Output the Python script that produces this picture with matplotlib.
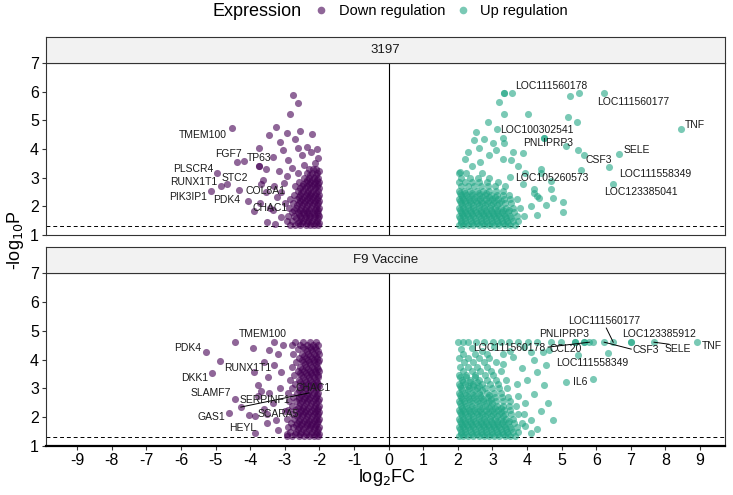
import matplotlib
matplotlib.use("Agg")
import matplotlib.pyplot as plt
from matplotlib.lines import Line2D

plt.rcParams['font.family'] = ['Liberation Sans', 'DejaVu Sans']
plt.rcParams['axes.unicode_minus'] = False

DOWN_COL = "#440154"
UP_COL = "#21A685"
ALPHA = 0.6
PCUT = 1.301

panels = ["3197", "F9 Vaccine"]

# ---- 3197, down regulation ----
a_scatter = [(-2.75, 5.88), (-2.62, 5.62), (-2.85, 5.22), (-3.25, 4.78), (-2.95, 4.55), (-2.55, 4.62),
             (-2.2, 4.52), (-3.45, 4.5), (-2.7, 4.35), (-2.35, 4.08), (-2.08, 4.0), (-3.75, 4.02),
             (-3.05, 3.98), (-3.35, 3.72), (-2.92, 3.62), (-2.5, 3.78), (-2.12, 3.5), (-3.55, 3.3),
             (-3.18, 3.22), (-2.8, 3.35), (-3.62, 2.92), (-3.32, 2.72), (-3.02, 2.82), (-3.55, 2.5),
             (-3.22, 2.32), (-3.72, 2.1), (-3.42, 1.95), (-3.88, 1.82), (-3.12, 1.62), (-3.5, 1.45),
             (-3.28, 1.38), (-3.0, 2.1), (-3.1, 2.5), (-2.95, 1.5), (-2.95, 3.05), (-2.45, 3.45),
             (-2.25, 3.9), (-2.62, 4.05), (-3.15, 4.25), (-2.05, 3.7), (-2.18, 3.3), (-2.02, 3.25)]
a_rows = [(1.35, [-2.85, -2.7, -2.55, -2.4, -2.28, -2.15, -2.03]),
          (1.42, [-2.63, -2.5, -2.36, -2.24, -2.11, -2.01]),
          (1.5, [-2.78, -2.6, -2.47, -2.33, -2.2, -2.08]),
          (1.58, [-2.68, -2.53, -2.41, -2.29, -2.16, -2.04]),
          (1.65, [-2.9, -2.72, -2.55, -2.4, -2.26, -2.12, -2.02]),
          (1.73, [-2.58, -2.45, -2.31, -2.17, -2.05]),
          (1.8, [-2.8, -2.62, -2.48, -2.35, -2.2, -2.06]),
          (1.88, [-2.74, -2.57, -2.43, -2.3, -2.14, -2.03]),
          (1.95, [-2.88, -2.68, -2.52, -2.38, -2.25, -2.1, -2.02]),
          (2.03, [-2.66, -2.49, -2.35, -2.21, -2.07]),
          (2.1, [-2.75, -2.6, -2.44, -2.3, -2.16, -2.04]),
          (2.18, [-2.55, -2.41, -2.27, -2.12, -2.01]),
          (2.25, [-2.85, -2.66, -2.5, -2.36, -2.22, -2.08]),
          (2.33, [-2.6, -2.45, -2.31, -2.18, -2.04]),
          (2.4, [-2.72, -2.55, -2.4, -2.27, -2.12, -2.02]),
          (2.48, [-2.52, -2.37, -2.24, -2.09]),
          (2.55, [-2.62, -2.46, -2.32, -2.18, -2.05]),
          (2.63, [-2.56, -2.41, -2.27, -2.13, -2.02]),
          (2.7, [-2.7, -2.5, -2.36, -2.22, -2.08]),
          (2.78, [-2.47, -2.31, -2.17, -2.05]),
          (2.85, [-2.58, -2.4, -2.26, -2.12, -2.02]),
          (2.93, [-2.36, -2.2, -2.07]),
          (3.0, [-2.45, -2.3, -2.15, -2.04]),
          (3.08, [-2.28, -2.11]),
          (3.15, [-2.62, -2.35, -2.2, -2.06]),
          (3.3, [-2.3, -2.1])]
# name, x, y, label x, label y
a_labels = [("TMEM100", -4.52, 4.73, -5.36, 4.49), ("FGF7", -4.38, 3.55, -4.63, 3.83),
            ("TP63", -3.74, 3.41, -3.74, 3.69), ("PLSCR4", -4.96, 3.16, -5.64, 3.30),
            ("STC2", -4.67, 2.78, -4.43, 3.00), ("RUNX1T1", -4.84, 2.71, -5.64, 2.85),
            ("PIK3IP1", -5.12, 2.52, -5.79, 2.33), ("PDK4", -4.32, 2.57, -4.67, 2.22),
            ("COL8A1", -3.68, 2.78, -3.57, 2.54), ("CHAC1", -3.34, 1.87, -3.42, 1.94)]
a_extra = [(-4.18, 3.58), (-4.06, 2.19), (-3.74, 3.41)]

# ---- 3197, up regulation ----
b_scatter = [(3.56, 5.95), (5.25, 5.85), (5.5, 5.95), (3.2, 5.64), (3.34, 5.22), (4.03, 5.22),
             (5.19, 5.12), (5.45, 4.94), (2.88, 4.94), (2.53, 4.59), (2.76, 4.35), (2.47, 4.31),
             (3.02, 4.2), (3.3, 4.4), (3.34, 4.2), (4.49, 4.38), (5.48, 3.97), (5.65, 3.79),
             (3.89, 3.86), (3.31, 3.65), (3.75, 3.4), (4.41, 3.3), (4.4, 3.15), (3.89, 2.78),
             (4.7, 2.9), (4.7, 2.62), (4.76, 2.29), (5.04, 2.15), (5.04, 1.8), (4.2, 2.6),
             (4.35, 2.3), (4.1, 2.0), (4.55, 2.05), (4.3, 1.7), (2.2, 3.65), (2.4, 3.4),
             (2.65, 3.55), (2.9, 3.8), (3.1, 3.95), (2.3, 3.9), (2.05, 3.2), (2.6, 4.05),
             (3.55, 3.6), (3.95, 3.15), (3.6, 3.9), (4.2, 2.45), (4.28, 2.35), (3.34, 5.95)]
b_rows = [(1.35, [2.02, 2.15, 2.3, 2.45, 2.6, 2.75, 2.9, 3.05, 3.2, 3.35, 3.5, 3.65]),
          (1.42, [2.1, 2.25, 2.4, 2.55, 2.7, 2.85, 3.0, 3.15, 3.3, 3.45]),
          (1.5, [2.08, 2.22, 2.38, 2.52, 2.68, 2.82, 2.98, 3.12, 3.28, 3.42, 3.58, 3.75]),
          (1.58, [2.05, 2.2, 2.36, 2.5, 2.66, 2.8, 2.95, 3.1, 3.25, 3.4, 3.55]),
          (1.65, [2.02, 2.15, 2.3, 2.45, 2.6, 2.75, 2.9, 3.05, 3.2, 3.35, 3.52, 3.7, 3.9]),
          (1.73, [2.12, 2.27, 2.42, 2.57, 2.72, 2.87, 3.02, 3.17, 3.32]),
          (1.8, [2.08, 2.22, 2.38, 2.52, 2.68, 2.82, 2.98, 3.12, 3.28, 3.45, 3.62]),
          (1.88, [2.05, 2.2, 2.36, 2.5, 2.66, 2.8, 2.96, 3.12, 3.3, 3.48]),
          (1.95, [2.02, 2.15, 2.3, 2.45, 2.6, 2.75, 2.92, 3.08, 3.25, 3.4, 3.58, 3.8]),
          (2.03, [2.12, 2.28, 2.44, 2.6, 2.78, 2.95, 3.12]),
          (2.1, [2.08, 2.22, 2.38, 2.55, 2.7, 2.85, 3.02, 3.18, 3.35, 3.55]),
          (2.18, [2.05, 2.2, 2.36, 2.52, 2.68, 2.86, 3.05, 3.25]),
          (2.25, [2.02, 2.15, 2.32, 2.48, 2.65, 2.8, 2.98, 3.15, 3.32, 3.5, 3.72]),
          (2.33, [2.12, 2.3, 2.5, 2.7, 2.9, 3.08]),
          (2.4, [2.08, 2.25, 2.42, 2.6, 2.78, 2.95, 3.12, 3.3, 3.48]),
          (2.48, [2.05, 2.22, 2.4, 2.62, 2.82]),
          (2.55, [2.02, 2.18, 2.35, 2.55, 2.72, 2.9, 3.1, 3.3]),
          (2.7, [2.1, 2.28, 2.48, 2.68, 2.88, 3.08, 3.35]),
          (2.85, [2.02, 2.2, 2.42, 2.62, 2.85, 3.15]),
          (3.0, [2.1, 2.35, 2.58, 2.9]),
          (3.15, [2.02, 2.25, 2.7])]
b_labels = [("LOC111560178", 3.34, 5.95, 4.70, 6.20), ("LOC111560177", 6.23, 5.95, 7.07, 5.64),
            ("TNF", 8.45, 4.70, 8.86, 4.84), ("LOC100302541", 3.13, 4.70, 4.27, 4.66),
            ("PNLIPRP3", 5.13, 4.10, 4.60, 4.21), ("SELE", 6.66, 3.83, 7.17, 3.97),
            ("CSF3", 6.37, 3.38, 6.08, 3.62), ("LOC111558349", 5.56, 3.27, 7.71, 3.13),
            ("LOC123385041", 6.49, 2.78, 7.30, 2.50), ("LOC105260573", 3.51, 3.02, 4.73, 2.99)]
b_extra = [(4.49, 4.38)]

# ---- F9 Vaccine, down regulation ----
c_scatter = [(-4.87, 3.95), (-3.92, 4.4), (-3.45, 4.33), (-4.03, 2.07), (-3.77, 3.1), (-3.77, 2.75),
             (-3.48, 3.4), (-3.3, 3.8), (-3.2, 4.2), (-3.05, 4.5), (-3.35, 2.5), (-3.5, 1.8),
             (-3.2, 1.55), (-3.6, 2.3), (-3.15, 3.0), (-3.0, 2.2), (-3.25, 1.9), (-3.9, 3.55),
             (-3.3, 4.6), (-2.95, 1.4), (-3.1, 3.55), (-3.85, 2.05), (-3.45, 2.85)]
c_rows = [(1.35, [-2.95, -2.78, -2.6, -2.45, -2.3, -2.15, -2.03]),
          (1.42, [-2.7, -2.55, -2.39, -2.25, -2.11, -2.01]),
          (1.5, [-2.85, -2.68, -2.52, -2.38, -2.22, -2.08]),
          (1.58, [-2.62, -2.46, -2.31, -2.17, -2.04]),
          (1.65, [-2.92, -2.75, -2.58, -2.42, -2.28, -2.12, -2.02]),
          (1.73, [-2.69, -2.53, -2.37, -2.23, -2.09]),
          (1.8, [-2.82, -2.65, -2.5, -2.35, -2.2, -2.06]),
          (1.88, [-2.6, -2.44, -2.3, -2.15, -2.03]),
          (1.95, [-2.95, -2.72, -2.56, -2.4, -2.25, -2.1, -2.02]),
          (2.03, [-2.66, -2.51, -2.36, -2.2, -2.07]),
          (2.1, [-2.8, -2.62, -2.46, -2.32, -2.16, -2.04]),
          (2.18, [-2.57, -2.41, -2.27, -2.12, -2.01]),
          (2.25, [-2.9, -2.7, -2.54, -2.38, -2.22, -2.08]),
          (2.33, [-2.63, -2.47, -2.32, -2.17, -2.05]),
          (2.4, [-2.78, -2.6, -2.44, -2.28, -2.12, -2.02]),
          (2.48, [-2.55, -2.4, -2.24, -2.09]),
          (2.55, [-2.88, -2.68, -2.5, -2.35, -2.18, -2.05]),
          (2.63, [-2.6, -2.45, -2.3, -2.14, -2.02]),
          (2.7, [-2.75, -2.58, -2.42, -2.26, -2.1]),
          (2.78, [-2.52, -2.37, -2.2, -2.06]),
          (2.85, [-2.92, -2.65, -2.48, -2.32, -2.16, -2.03]),
          (2.93, [-2.58, -2.42, -2.26, -2.1]),
          (3.0, [-2.8, -2.55, -2.38, -2.22, -2.08]),
          (3.08, [-2.47, -2.3, -2.14, -2.02]),
          (3.15, [-2.7, -2.5, -2.34, -2.18, -2.04]),
          (3.23, [-2.55, -2.39, -2.22, -2.07]),
          (3.3, [-2.85, -2.6, -2.42, -2.26, -2.1]),
          (3.38, [-2.46, -2.31, -2.16, -2.03]),
          (3.45, [-2.72, -2.52, -2.35, -2.2, -2.05]),
          (3.53, [-2.57, -2.4, -2.24, -2.09]),
          (3.6, [-2.62, -2.45, -2.28, -2.12, -2.02]),
          (3.68, [-2.5, -2.33, -2.17, -2.04]),
          (3.75, [-2.78, -2.55, -2.38, -2.22, -2.08]),
          (3.83, [-2.42, -2.26, -2.11]),
          (3.9, [-2.68, -2.48, -2.3, -2.15, -2.03]),
          (3.98, [-2.5, -2.33, -2.17, -2.02]),
          (4.05, [-2.58, -2.4, -2.22, -2.06]),
          (4.13, [-2.44, -2.27, -2.1]),
          (4.2, [-2.75, -2.5, -2.32, -2.15, -2.02]),
          (4.28, [-2.36, -2.2, -2.05]),
          (4.35, [-2.62, -2.42, -2.25, -2.1]),
          (4.43, [-2.46, -2.28, -2.12]),
          (4.5, [-2.8, -2.55, -2.35, -2.18, -2.04]),
          (4.62, [-2.7, -2.48, -2.28, -2.1])]
c_labels = [("PDK4", -5.27, 4.26, -5.80, 4.40), ("TMEM100", -4.44, 4.61, -3.63, 4.88),
            ("RUNX1T1", -3.60, 3.91, -4.06, 3.70), ("DKK1", -5.10, 3.53, -5.61, 3.36),
            ("SLAMF7", -4.44, 2.63, -5.13, 2.84), ("SERPINF1", -3.70, 2.90, -3.57, 2.60),
            ("CHAC1", -4.27, 2.35, -2.18, 3.01), ("GAS1", -4.60, 2.14, -5.13, 2.00),
            ("SCARA5", -3.50, 2.10, -3.20, 2.11), ("HEYL", -3.86, 1.45, -4.23, 1.62)]
c_segments = [((-4.27, 2.35), (-2.30, 2.84))]

# ---- F9 Vaccine, up regulation ----
d_top_x = [2.0, 2.15, 2.3, 2.52, 2.76, 3.02, 3.24, 3.47, 3.73, 4.02, 4.28, 4.68, 4.97, 5.38, 5.64,
           5.9, 7.01]
d_top_y = 4.6
d_scatter = [(2.1, 4.35), (2.4, 4.4), (2.7, 4.3), (3.05, 4.45), (3.5, 4.3), (3.9, 4.45), (4.45, 4.25),
             (4.12, 4.26), (4.2, 4.0), (4.55, 3.8), (4.3, 3.55), (4.0, 3.3), (4.5, 3.1), (4.2, 2.8),
             (4.6, 2.5), (4.4, 2.2), (4.1, 1.9), (4.3, 1.6), (4.75, 1.9), (3.95, 2.5), (3.85, 3.7),
             (4.62, 4.32), (5.48, 4.16), (5.13, 3.22), (3.6, 4.1), (3.3, 3.85), (3.7, 3.15),
             (3.9, 2.1), (3.75, 2.75), (4.1, 1.45), (3.95, 1.7)]
d_rows = [(1.35, [2.02, 2.15, 2.3, 2.45, 2.6, 2.75, 2.9, 3.05, 3.2, 3.35, 3.5, 3.65]),
          (1.42, [2.1, 2.25, 2.4, 2.55, 2.7, 2.85, 3.0, 3.15, 3.3, 3.45]),
          (1.5, [2.08, 2.22, 2.38, 2.52, 2.68, 2.82, 2.98, 3.12, 3.28, 3.42, 3.58, 3.75]),
          (1.58, [2.05, 2.2, 2.36, 2.5, 2.66, 2.8, 2.95, 3.1, 3.25, 3.4, 3.55]),
          (1.65, [2.02, 2.15, 2.3, 2.45, 2.6, 2.75, 2.9, 3.05, 3.2, 3.35, 3.52, 3.7]),
          (1.73, [2.12, 2.27, 2.42, 2.57, 2.72, 2.87, 3.02, 3.17, 3.32]),
          (1.8, [2.08, 2.22, 2.38, 2.52, 2.68, 2.82, 2.98, 3.12, 3.28, 3.45, 3.62, 3.85]),
          (1.88, [2.05, 2.2, 2.36, 2.5, 2.66, 2.8, 2.96, 3.12, 3.3, 3.48]),
          (1.95, [2.02, 2.15, 2.3, 2.45, 2.6, 2.75, 2.92, 3.08, 3.25, 3.4, 3.58]),
          (2.03, [2.12, 2.28, 2.44, 2.6, 2.78, 2.95, 3.12, 3.3]),
          (2.1, [2.08, 2.22, 2.38, 2.55, 2.7, 2.85, 3.02, 3.18, 3.35, 3.55, 3.75]),
          (2.18, [2.05, 2.2, 2.36, 2.52, 2.68, 2.86, 3.05, 3.25]),
          (2.25, [2.02, 2.15, 2.32, 2.48, 2.65, 2.8, 2.98, 3.15, 3.32, 3.5]),
          (2.33, [2.12, 2.3, 2.5, 2.7, 2.9, 3.08, 3.25]),
          (2.4, [2.08, 2.25, 2.42, 2.6, 2.78, 2.95, 3.12, 3.3, 3.48, 3.68]),
          (2.48, [2.05, 2.22, 2.4, 2.62, 2.82, 3.0]),
          (2.55, [2.02, 2.18, 2.35, 2.55, 2.72, 2.9, 3.1, 3.3, 3.5]),
          (2.63, [2.12, 2.32, 2.52, 2.72, 2.95]),
          (2.7, [2.1, 2.28, 2.48, 2.68, 2.88, 3.08, 3.28, 3.45]),
          (2.78, [2.05, 2.25, 2.45, 2.65, 2.9]),
          (2.85, [2.02, 2.2, 2.42, 2.62, 2.85, 3.05, 3.25]),
          (2.93, [2.12, 2.3, 2.5, 2.7]),
          (3.0, [2.1, 2.32, 2.55, 2.78, 3.0, 3.2, 3.42]),
          (3.08, [2.05, 2.28, 2.45, 2.62]),
          (3.15, [2.02, 2.22, 2.45, 2.7, 2.92, 3.15]),
          (3.23, [2.15, 2.35, 2.55]),
          (3.3, [2.12, 2.35, 2.6, 2.85, 3.1, 3.38]),
          (3.38, [2.05, 2.25, 2.5]),
          (3.45, [2.02, 2.25, 2.5, 2.78, 3.02]),
          (3.6, [2.15, 2.4, 2.65, 2.95, 3.25]),
          (3.75, [2.05, 2.3, 2.55, 2.85]),
          (3.9, [2.18, 2.45, 2.75, 3.1]),
          (4.05, [2.02, 2.3, 2.6, 2.9]),
          (4.2, [2.15, 2.5, 2.85, 3.3])]
d_labels = [("LOC111560177", 6.49, 4.60, 6.22, 5.34), ("PNLIPRP3", 5.64, 4.60, 5.07, 4.88),
            ("LOC123385912", 7.01, 4.60, 7.82, 4.88), ("LOC111560178", 5.80, 4.60, 3.49, 4.40),
            ("CCL20", 5.38, 4.60, 5.13, 4.36), ("CSF3", 6.23, 4.60, 7.43, 4.33),
            ("SELE", 7.67, 4.60, 8.36, 4.36), ("TNF", 8.92, 4.60, 9.35, 4.47),
            ("LOC111558349", 6.34, 4.22, 5.88, 3.88), ("IL6", 5.91, 3.32, 5.55, 3.22)]
d_segments = [((5.80, 4.60), (4.61, 4.43)), ((6.49, 4.60), (6.29, 5.09)),
              ((6.23, 4.60), (7.01, 4.36)), ((7.67, 4.60), (8.10, 4.53))]


def collect(scatter, rows, labels, extra=()):
    xs = [p[0] for p in scatter] + [p[0] for p in extra]
    ys = [p[1] for p in scatter] + [p[1] for p in extra]
    for y, row in rows:
        xs += row
        ys += [y] * len(row)
    xs += [l[1] for l in labels]
    ys += [l[2] for l in labels]
    return xs, ys


W, H = 733, 495
fig = plt.figure(figsize=(W / 100, H / 100), dpi=100)


def fr(x0, y0, x1, y1):
    return [x0 / W, 1 - y1 / H, (x1 - x0) / W, (y1 - y0) / H]


panel_px = [(63, 235), (273, 446)]
strip_px = [(37, 63), (247, 273)]
left_px, right_px = 46, 725

data = [
    (collect(a_scatter, a_rows, a_labels, a_extra), collect(b_scatter, b_rows, b_labels, b_extra),
     a_labels + b_labels, []),
    (collect(c_scatter, c_rows, c_labels),
     collect(d_scatter, d_rows, d_labels, [(x, d_top_y) for x in d_top_x]),
     c_labels + d_labels, c_segments + d_segments),
]

for i, name in enumerate(panels):
    (dx, dy), (ux, uy), labels, segs = data[i]
    ax = fig.add_axes(fr(left_px, panel_px[i][0], right_px, panel_px[i][1]))
    ax.scatter(dx, dy, s=26, color=DOWN_COL, alpha=ALPHA, linewidths=0, zorder=3)
    ax.scatter(ux, uy, s=26, color=UP_COL, alpha=ALPHA, linewidths=0, zorder=3)
    ax.axvline(0, color="black", lw=0.8, zorder=2)
    ax.axhline(PCUT, color="black", lw=0.7, ls=(0, (4, 3)), zorder=2)
    for (x0, y0), (x1, y1) in segs:
        ax.plot([x0, x1], [y0, y1], color="black", lw=0.7, zorder=4)
    for lab, px, py, tx, ty in labels:
        ax.text(tx, ty, lab, fontsize=7.5, ha="center", va="center", color="#1a1a1a", zorder=5)
    ax.set_xlim(-9.9, 9.72)
    ax.set_ylim(1, 7)
    ax.set_yticks(range(1, 8))
    ax.set_xticks(range(-9, 10))
    for sp in ax.spines.values():
        sp.set_color("#333333")
        sp.set_linewidth(0.8)
    ax.tick_params(axis="y", labelsize=11.5, length=3, width=0.8, color="#333333", pad=2)
    if i == 0:
        ax.tick_params(axis="x", bottom=False, labelbottom=False)
    else:
        ax.spines["bottom"].set_color("black")
        ax.spines["bottom"].set_linewidth(1.6)
        ax.tick_params(axis="x", labelsize=11.5, length=3, width=0.8, color="#333333", pad=2)

    sax = fig.add_axes(fr(left_px, strip_px[i][0], right_px, strip_px[i][1]))
    sax.set_facecolor("#F2F2F2")
    sax.set_xticks([])
    sax.set_yticks([])
    for sp in sax.spines.values():
        sp.set_color("#333333")
        sp.set_linewidth(0.8)
    sax.text(0.5, 0.5, name, ha="center", va="center", fontsize=9.5, color="#1a1a1a",
             transform=sax.transAxes)

fig.text(387 / W, 1 - 478 / H, r"log$_2$FC", ha="center", va="center", fontsize=13)
fig.text(16 / W, 1 - 240 / H, r"-log$_{10}$P", ha="center", va="center", fontsize=13, rotation=90)

fig.text(213 / W, 1 - 11 / H, "Expression", ha="left", va="center", fontsize=13)
handles = [Line2D([], [], ls="", marker="o", markersize=5.5, color=DOWN_COL, alpha=ALPHA, mew=0),
           Line2D([], [], ls="", marker="o", markersize=5.5, color=UP_COL, alpha=ALPHA, mew=0)]
fig.legend(handles, ["Down regulation", "Up regulation"], ncol=2, frameon=False, fontsize=10.5,
           loc="center left", bbox_to_anchor=(314 / W, 1 - 11 / H), handletextpad=0.7,
           columnspacing=0.7, handlelength=1.0, borderpad=0, borderaxespad=0)

fig.savefig("out.png", dpi=100)
